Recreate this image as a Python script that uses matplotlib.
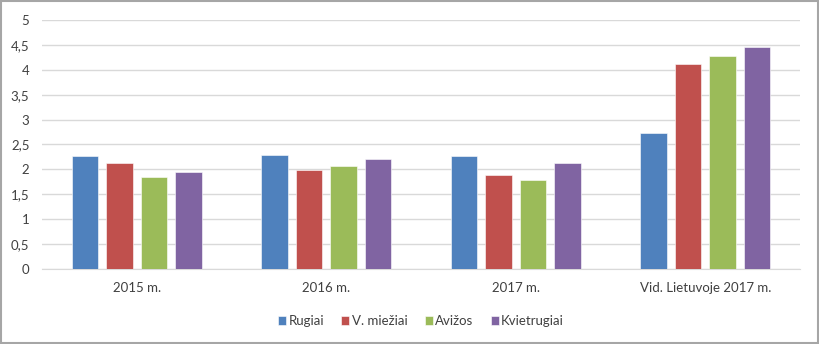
import matplotlib.pyplot as plt
import numpy as np
from matplotlib.patches import Rectangle
from matplotlib.ticker import FuncFormatter

plt.rcParams['font.family'] = ['Lato', 'DejaVu Sans']

categories = ['2015 m.', '2016 m.', '2017 m.', 'Vid. Lietuvoje 2017 m.']
series_names = ['Rugiai', 'V. miežiai', 'Avižos', 'Kvietrugiai']
rugiai = [2.27, 2.29, 2.27, 2.74]
miezai = [2.13, 1.99, 1.89, 4.11]
avizos = [1.85, 2.07, 1.79, 4.28]
kvietrugiai = [1.95, 2.21, 2.13, 4.45]
colors = ['#4F81BD', '#C0504D', '#9BBB59', '#8064A2']

fig = plt.figure(figsize=(8.2, 3.44), dpi=100)
ax = fig.add_axes([0.0512, 0.218, 0.9244, 0.724])

x = np.arange(len(categories))
step = 0.182
width = 0.142
for i, (name, vals) in enumerate(zip(series_names, [rugiai, miezai, avizos, kvietrugiai])):
    ax.bar(x + (i - 1.5) * step, vals, width, color=colors[i], label=name,
           edgecolor='white', linewidth=0.4, zorder=3)

ax.set_xlim(-0.5, 3.5)
ax.set_ylim(0, 5)
ax.set_yticks(np.arange(0, 5.01, 0.5))
ax.yaxis.set_major_formatter(FuncFormatter(lambda v, p: f'{v:g}'.replace('.', ',')))
ax.set_xticks(x)
ax.set_xticklabels(categories)
ax.grid(axis='y', color='#D9D9D9', linewidth=1, zorder=0)
for s in ['top', 'right', 'left']:
    ax.spines[s].set_visible(False)
ax.spines['bottom'].set_color('#D9D9D9')
ax.tick_params(axis='both', length=0, labelsize=9.5, colors='#404040')
ax.tick_params(axis='x', pad=9)
ax.tick_params(axis='y', pad=9)

ax.legend(loc='center', bbox_to_anchor=(0.5, -0.21), ncol=4, frameon=False,
          fontsize=9.5, handlelength=0.6, handleheight=0.6, handletextpad=0.2,
          columnspacing=1.3, labelcolor='#404040')

fig.patches.append(Rectangle((0.001, 0.002), 0.997, 0.995, transform=fig.transFigure,
                             fill=False, edgecolor='#A6A6A6', linewidth=1.5))

fig.savefig('out.png', dpi=100)
